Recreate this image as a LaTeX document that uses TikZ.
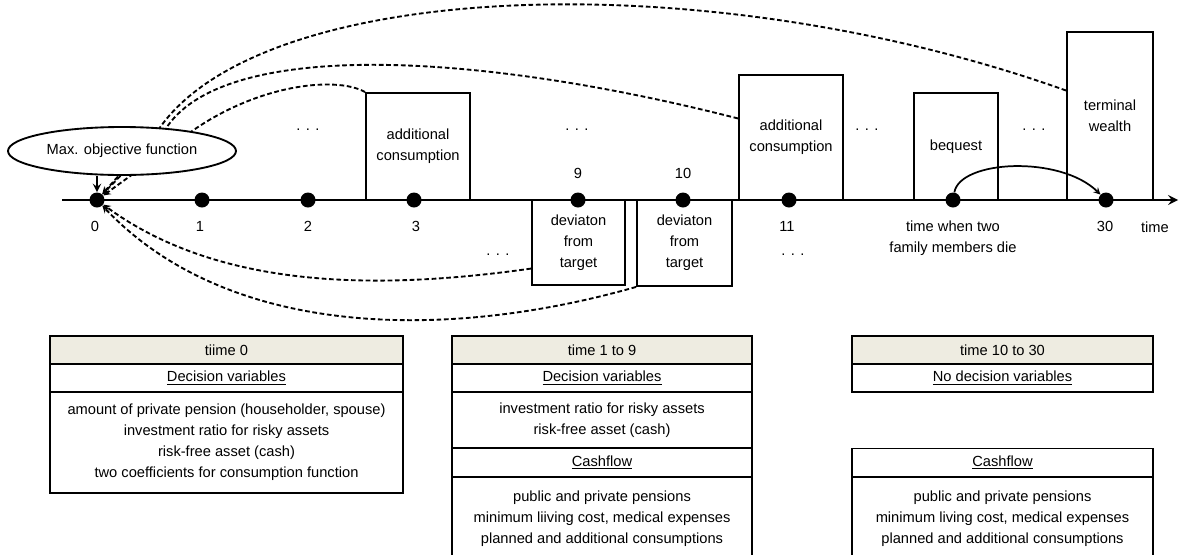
\documentclass[tikz,border=0pt]{standalone}
\usepackage{fontspec}
\setmainfont{Liberation Sans}
\usetikzlibrary{shapes.geometric,calc}
\newlength{\du}
\setlength{\du}{0.75pt}
\definecolor{headfill}{rgb}{0.933333, 0.925490, 0.882353}
\tikzset{
  box/.style={draw, line width=1.4pt, fill=white, align=center, inner sep=0pt},
  tick/.style={circle, fill=black, minimum size=15\du, inner sep=0pt},
  lbl/.style={inner sep=0pt, align=center},
  link/.style={line width=1.4pt, dash pattern=on 3.5pt off 2pt, -stealth},
  cell/.style={draw, line width=1pt, fill=white, align=center, inner sep=0pt},
}
\begin{document}
\begin{tikzpicture}[font=\fontsize{11}{15.75}\selectfont]
\pgftransformxscale{1.000000}
\pgftransformyscale{-1.000000}
\useasboundingbox (0\du,0\du) rectangle (1180\du,554\du);
% boxes on the time axis
\node[box, minimum width=104\du, minimum height=107\du] (acons1) at (418\du,146.5\du){additional\\consumption};
\node[box, minimum width=93\du, minimum height=85\du] (dev1) at (578.5\du,242.5\du){deviaton\\from\\target};
\node[box, minimum width=95\du, minimum height=86\du] (dev2) at (684.5\du,243\du){deviaton\\from\\target};
\node[box, minimum width=104\du, minimum height=125\du] (acons2) at (791\du,137.5\du){additional\\consumption};
\node[box, minimum width=84\du, minimum height=107\du] (beq) at (956\du,146.5\du){bequest};
\node[box, minimum width=86\du, minimum height=168\du] (tw) at (1110\du,116\du){terminal\\wealth};
% time axis
\coordinate (axstart) at (62\du,200\du);
\coordinate (axend) at (1178\du,200\du);
\draw[line width=2.2pt, -stealth] (axstart) -- (axend);
\node[tick] (t0) at (97\du,200\du){};
\node[tick] (t1) at (202\du,200\du){};
\node[tick] (t2) at (308\du,200\du){};
\node[tick] (t3) at (414\du,200\du){};
\node[tick] (t9) at (578\du,200\du){};
\node[tick] (t10) at (683\du,200\du){};
\node[tick] (t11) at (789\du,200\du){};
\node[tick] (tdie) at (953\du,200\du){};
\node[tick] (t30) at (1106\du,200\du){};
\node[lbl] (l0) at (95\du,226\du){0};
\node[lbl] (l1) at (200\du,226\du){1};
\node[lbl] (l2) at (308\du,226\du){2};
\node[lbl] (l3) at (416\du,226\du){3};
\node[lbl] (l9) at (578\du,173\du){9};
\node[lbl] (l10) at (683\du,173\du){10};
\node[lbl] (l11) at (787\du,226\du){11};
\node[lbl] (ldie) at (953\du,238.5\du){time when two\\family members die};
\node[lbl] (l30) at (1105\du,226\du){30};
\node[lbl] (ltime) at (1155\du,227\du){time};
\node[lbl] (gap1) at (308\du,130\du){. . .};
\node[lbl] (gap2) at (577\du,130\du){. . .};
\node[lbl] (gap3) at (867\du,130\du){. . .};
\node[lbl] (gap4) at (1034\du,130\du){. . .};
\node[lbl] (gap5) at (498\du,255\du){. . .};
\node[lbl] (gap6) at (793\du,255\du){. . .};
% links back to time 0
\draw[link] (acons1.north west) .. controls (335\du,75\du) and (250\du,85\du) .. (180\du,140\du) -- (t0);
\draw[link] ($(acons2.south west)!0.65!(acons2.north west)$) .. controls (470\du,50\du) and (220\du,40\du) .. (165\du,130\du) -- (t0);
\draw[link] ($(tw.south west)!0.65!(tw.north west)$) .. controls (700\du,-40\du) and (250\du,-20\du) .. (155\du,135\du) -- (t0);
\draw[link] ($(dev1.south west)!0.2!(dev1.north west)$) .. controls (380\du,290\du) and (220\du,290\du) .. (t0);
\draw[link] (dev2.south west) .. controls (450\du,340\du) and (230\du,340\du) .. (t0);
\draw[line width=1.3pt, -stealth] (tdie) .. controls (960\du,160\du) and (1060\du,155\du) .. (t30);
\node[ellipse, draw, fill=white, line width=1.4pt, inner sep=0pt, minimum width=228\du, minimum height=48\du] (obj) at (122\du,151\du){Max. objective function};
\draw[line width=1.8pt, -stealth] (obj.south -| t0) -- (t0);
% tables
\node[cell, fill=headfill, minimum width=353\du, minimum height=28\du] (hd0) at (226.5\du,350\du){tiime 0};
\node[cell, minimum width=353\du, minimum height=28\du] (dv0) at (226.5\du,378\du){\underline{Decision variables}};
\node[cell, minimum width=353\du, minimum height=101\du] (vr0) at (226.5\du,442.5\du){amount of private pension (householder, spouse)\\investment ratio for risky assets\\risk-free asset (cash)\\two coefficients for consumption function};
\node[cell, fill=headfill, minimum width=300\du, minimum height=28\du] (hd1) at (602\du,350\du){time 1 to 9};
\node[cell, minimum width=300\du, minimum height=28\du] (dv1) at (602\du,378\du){\underline{Decision variables}};
\node[cell, minimum width=300\du, minimum height=56\du] (vr1) at (602\du,420\du){investment ratio for risky assets\\risk-free asset (cash)};
\node[cell, minimum width=300\du, minimum height=28.5\du] (cf1) at (602\du,462.5\du){\underline{Cashflow}};
\node[cell, minimum width=300\du, minimum height=83\du] (cl1) at (602\du,518.5\du){public and private pensions\\minimum liiving cost, medical expenses\\planned and additional consumptions};
\node[cell, fill=headfill, minimum width=301\du, minimum height=28\du] (hd2) at (1002.5\du,350\du){time 10 to 30};
\node[cell, minimum width=301\du, minimum height=28\du] (dv2) at (1002.5\du,378\du){\underline{No decision variables}};
\node[cell, minimum width=301\du, minimum height=28.5\du] (cf2) at (1002.5\du,462.5\du){\underline{Cashflow}};
\node[cell, minimum width=301\du, minimum height=83\du] (cl2) at (1002.5\du,518.5\du){public and private pensions\\minimum living cost, medical expenses\\planned and additional consumptions};
\end{tikzpicture}
\end{document}
